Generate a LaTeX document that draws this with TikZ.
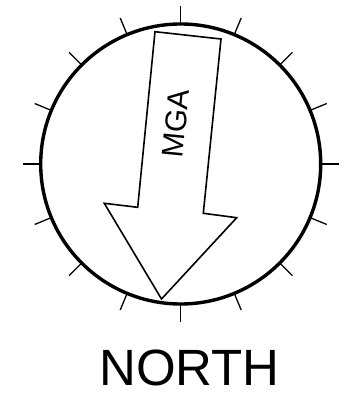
\documentclass[tikz,border=0pt]{standalone}
\usepackage{fontspec}
\setmainfont{Liberation Sans}
\usetikzlibrary{positioning}

\begin{document}
\begin{tikzpicture}[x=1pt, y=1pt,
    dial/.style={line width=3.4pt},
    dialtick/.style={line width=1.3pt},
    pointer/.style={line width=1.6pt, line join=miter},
    bigtext/.style={font=\fontsize{51}{51}\selectfont, inner sep=0pt},
    arrowtext/.style={font=\fontsize{30}{30}\selectfont, inner sep=0pt}
]

% Frame of the picture
\useasboundingbox (0,0) rectangle (350,405);

% Dial radius and tick length
\def\rad{140}
\def\ticklen{18}

% Dial
\coordinate (c) at (180.7,241);
\draw[dial] (c) circle[radius=\rad];

% Ticks every 22.5 degrees
\foreach \a in {0,22.5,...,337.5}
    \draw[dialtick] (c) ++(\a:\rad) -- ++(\a:\ticklen);

% Arrow pointing to north
\coordinate (tail-l) at (155,373.3);
\coordinate (tail-r) at (221,366);
\coordinate (neck-r) at (203.3,191.7);
\coordinate (barb-r) at (236.7,187.3);
\coordinate (tip) at (161.5,106);
\coordinate (barb-l) at (104.3,201.7);
\coordinate (neck-l) at (137.7,197.7);
\draw[pointer] (tail-l) -- (tail-r) -- (neck-r) -- (barb-r) -- (tip)
    -- (barb-l) -- (neck-l) -- cycle;
\node[arrowtext, rotate=84.4] (mga) at (176,281.5) {MGA};

% Caption
\node[bigtext] (north) at (189.6,36.7) {NORTH};

\end{tikzpicture}
\end{document}
